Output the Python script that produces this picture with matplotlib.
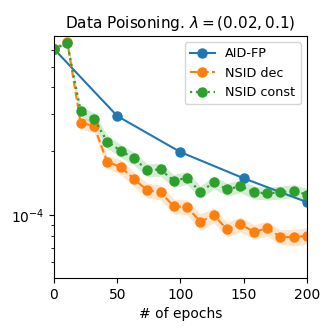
import numpy as np
import matplotlib
matplotlib.use("Agg")
import matplotlib.pyplot as plt

aid_epochs = [0, 50, 100, 150, 200]
aid_fp = [6.07e-4, 2.93e-4, 1.98e-4, 1.49e-4, 1.15e-4]

nsid_epochs = np.linspace(0, 200, 20)
nsid_dec = [6.07e-4, 6.57e-4, 2.71e-4, 2.64e-4, 1.78e-4, 1.69e-4, 1.48e-4, 1.31e-4,
            1.28e-4, 1.10e-4, 1.09e-4, 9.3e-5, 1.0e-4, 8.56e-5, 9.07e-5, 8.34e-5,
            8.65e-5, 7.9e-5, 7.85e-5, 8.0e-5]
nsid_dec_rel = [0.0, 0.02, 0.06, 0.07, 0.07, 0.08, 0.08, 0.08, 0.08, 0.08,
                0.08, 0.09, 0.08, 0.08, 0.08, 0.08, 0.08, 0.08, 0.09, 0.09]
nsid_const = [6.07e-4, 6.45e-4, 3.09e-4, 2.84e-4, 2.22e-4, 2.01e-4, 1.85e-4, 1.63e-4,
              1.64e-4, 1.45e-4, 1.50e-4, 1.28e-4, 1.43e-4, 1.32e-4, 1.37e-4, 1.28e-4,
              1.265e-4, 1.28e-4, 1.30e-4, 1.25e-4]
nsid_const_rel = [0.0, 0.02, 0.05, 0.07, 0.07, 0.07, 0.07, 0.07, 0.07, 0.07,
                  0.07, 0.07, 0.07, 0.07, 0.07, 0.07, 0.07, 0.07, 0.07, 0.07]

fig = plt.figure(figsize=(3.33, 3.33), dpi=100)
ax = fig.add_axes([0.162, 0.165, 0.760, 0.727])

ax.plot(aid_epochs, aid_fp, '-o', color='C0', label='AID-FP', markersize=6.5)
d = np.array(nsid_dec); dr = np.array(nsid_dec_rel)
ax.plot(nsid_epochs, d, '--o', color='C1', label='NSID dec', markersize=6.5)
ax.fill_between(nsid_epochs, d * (1 - dr), d * (1 + dr), color='C1', alpha=0.2, linewidth=0)
c = np.array(nsid_const); cr = np.array(nsid_const_rel)
ax.plot(nsid_epochs, c, ':o', color='C2', label='NSID const', markersize=6.5, linewidth=1.6)
ax.fill_between(nsid_epochs, c * (1 - cr), c * (1 + cr), color='C2', alpha=0.2, linewidth=0)

ax.set_yscale('log')
ax.set_xlim(0, 200)
ax.set_ylim(5.05e-5, 6.98e-4)
ax.set_xticks([0, 50, 100, 150, 200])
ax.set_xlabel('# of epochs', fontsize=10)
ax.set_title(r'Data Poisoning. $\lambda=(0.02, 0.1)$', fontsize=11)
ax.tick_params(labelsize=10)
ax.legend(loc='upper right', fontsize=9.2)

fig.savefig('out.png', dpi=100)
